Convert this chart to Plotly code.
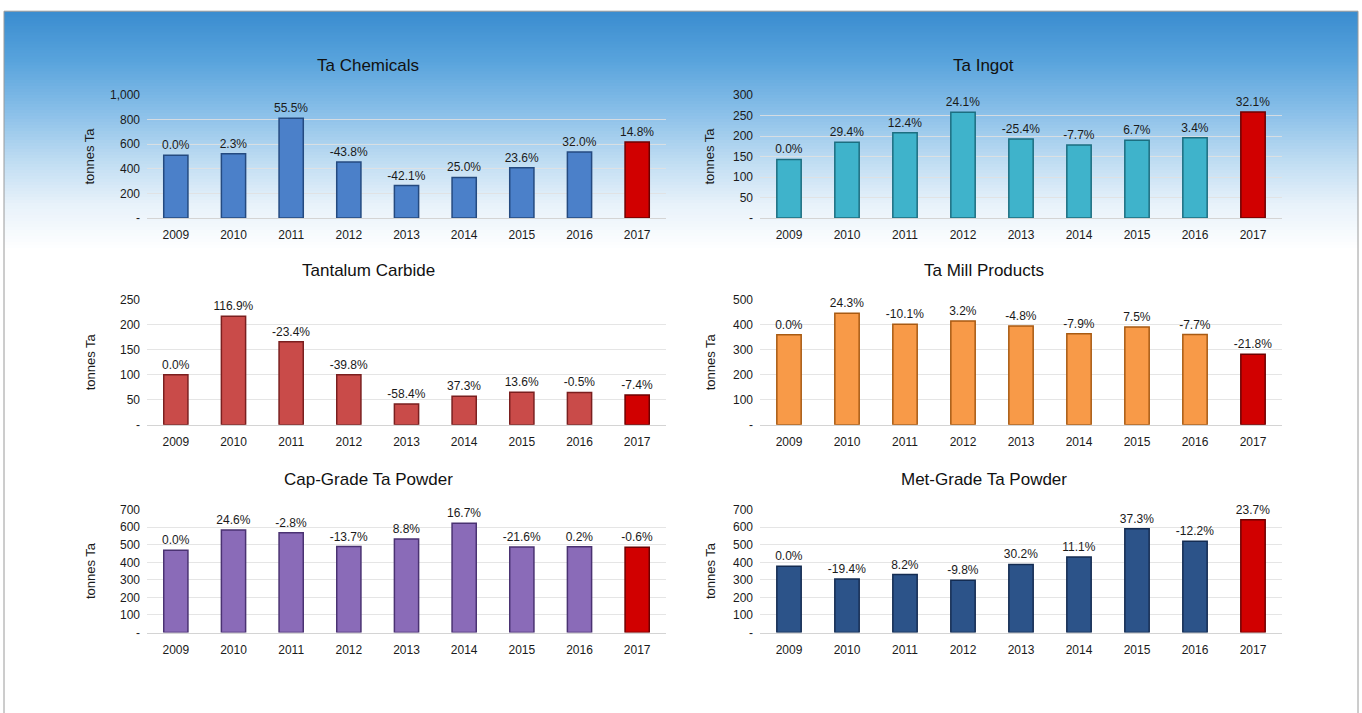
import plotly.graph_objects as go

W, H = 1362, 713

years = ["2009", "2010", "2011", "2012", "2013", "2014", "2015", "2016", "2017"]

chem_vals = [510, 522, 812, 456, 264, 330, 408, 538, 618]
chem_lbls = ["0.0%", "2.3%", "55.5%", "-43.8%", "-42.1%", "25.0%", "23.6%", "32.0%", "14.8%"]

ingot_vals = [143, 185, 208, 258, 193, 178, 190, 196, 259]
ingot_lbls = ["0.0%", "29.4%", "12.4%", "24.1%", "-25.4%", "-7.7%", "6.7%", "3.4%", "32.1%"]

carb_vals = [100, 217, 166, 100, 41.6, 57.1, 64.9, 64.6, 59.8]
carb_lbls = ["0.0%", "116.9%", "-23.4%", "-39.8%", "-58.4%", "37.3%", "13.6%", "-0.5%", "-7.4%"]

mill_vals = [360, 447, 402, 415, 395, 364, 391, 361, 282]
mill_lbls = ["0.0%", "24.3%", "-10.1%", "3.2%", "-4.8%", "-7.9%", "7.5%", "-7.7%", "-21.8%"]

cap_vals = [469, 584, 568, 490, 533, 622, 488, 489, 486]
cap_lbls = ["0.0%", "24.6%", "-2.8%", "-13.7%", "8.8%", "16.7%", "-21.6%", "0.2%", "-0.6%"]

met_vals = [378, 305, 330, 298, 388, 431, 592, 520, 643]
met_lbls = ["0.0%", "-19.4%", "8.2%", "-9.8%", "30.2%", "11.1%", "37.3%", "-12.2%", "23.7%"]

chem_ticks = [0, 200, 400, 600, 800, 1000]
chem_ticktext = ["-", "200", "400", "600", "800", "1,000"]
ingot_ticks = [0, 50, 100, 150, 200, 250, 300]
ingot_ticktext = ["-", "50", "100", "150", "200", "250", "300"]
carb_ticks = [0, 50, 100, 150, 200, 250]
carb_ticktext = ["-", "50", "100", "150", "200", "250"]
mill_ticks = [0, 100, 200, 300, 400, 500]
mill_ticktext = ["-", "100", "200", "300", "400", "500"]
powder_ticks = [0, 100, 200, 300, 400, 500, 600, 700]
powder_ticktext = ["-", "100", "200", "300", "400", "500", "600", "700"]

titles = ["Ta Chemicals", "Ta Ingot", "Tantalum Carbide", "Ta Mill Products",
          "Cap-Grade Ta Powder", "Met-Grade Ta Powder"]
y_title = "tonnes Ta"

HIGHLIGHT = "#d10000"
HIGHLIGHT_LINE = "#6e0000"

charts = [
    dict(vals=chem_vals, lbls=chem_lbls, ticks=chem_ticks, tt=chem_ticktext,
         color="#4b80c9", line="#244a80", col=0, row=0),
    dict(vals=ingot_vals, lbls=ingot_lbls, ticks=ingot_ticks, tt=ingot_ticktext,
         color="#3fb3cb", line="#1c6e80", col=1, row=0),
    dict(vals=carb_vals, lbls=carb_lbls, ticks=carb_ticks, tt=carb_ticktext,
         color="#c94b49", line="#7a1f1f", col=0, row=1),
    dict(vals=mill_vals, lbls=mill_lbls, ticks=mill_ticks, tt=mill_ticktext,
         color="#f89a48", line="#a85a12", col=1, row=1),
    dict(vals=cap_vals, lbls=cap_lbls, ticks=powder_ticks, tt=powder_ticktext,
         color="#8a6bb8", line="#4a3272", col=0, row=2),
    dict(vals=met_vals, lbls=met_lbls, ticks=powder_ticks, tt=powder_ticktext,
         color="#2c5389", line="#142c52", col=1, row=2),
]

# pixel layout (target screen pixels)
x_dom_px = [(147, 666), (760, 1282)]
y_dom_px = [(95, 218), (300, 425), (510, 633)]
title_x_px = [368, 984]
title_y_px = [65, 271, 480]
ytitle_x_px = [90, 710]

# observed vertical rendering: screen = 6.8 + 0.9814 * figure
def fy(y):
    return (y - 6.8) / 0.9814

def px_x(x):
    return x / W

def px_y(y):
    return 1 - fy(y) / H

fig = go.Figure()
layout = dict(
    width=W, height=H, margin=dict(l=0, r=0, t=0, b=0),
    paper_bgcolor="white", plot_bgcolor="rgba(0,0,0,0)",
    showlegend=False, bargap=0.58,
    font=dict(family="Liberation Sans, Arial, sans-serif", size=12, color="#1a1a1a"),
)
annotations = []

for i, c in enumerate(charts):
    n = i + 1
    xa = "x" if n == 1 else f"x{n}"
    ya = "y" if n == 1 else f"y{n}"
    colors = [c["color"]] * (len(years) - 1) + [HIGHLIGHT]
    lines = [c["line"]] * (len(years) - 1) + [HIGHLIGHT_LINE]
    fig.add_trace(go.Bar(
        x=years, y=c["vals"], text=c["lbls"], textposition="outside",
        constraintext="none",
        textfont=dict(size=12, color="#1a1a1a"), cliponaxis=False,
        marker=dict(color=colors, line=dict(color=lines, width=1.5)),
        xaxis=xa, yaxis=ya, hoverinfo="skip",
    ))
    x0, x1 = x_dom_px[c["col"]]
    y0, y1 = y_dom_px[c["row"]]
    layout["xaxis" if n == 1 else f"xaxis{n}"] = dict(
        domain=[px_x(x0), px_x(x1)], anchor=ya, type="category",
        showgrid=False, showline=True, linecolor="#d4d4d4", linewidth=1,
        ticks="", tickfont=dict(size=12, color="#1a1a1a"), ticklabelstandoff=6,
        fixedrange=True,
    )
    layout["yaxis" if n == 1 else f"yaxis{n}"] = dict(
        domain=[px_y(y1), px_y(y0)], anchor=xa,
        range=[0, c["ticks"][-1]], tickvals=c["ticks"], ticktext=c["tt"],
        showgrid=True, gridcolor="rgba(225,225,225,0.85)", gridwidth=1,
        zeroline=False, showline=False, ticks="",
        tickfont=dict(size=12, color="#1a1a1a"), ticklabelstandoff=6,
        fixedrange=True,
    )
    annotations.append(dict(
        text=titles[i], x=px_x(title_x_px[c["col"]]), y=px_y(title_y_px[c["row"]]),
        xref="paper", yref="paper", showarrow=False,
        font=dict(size=17, color="#111111"), xanchor="center", yanchor="middle",
    ))
    annotations.append(dict(
        text=y_title, x=px_x(ytitle_x_px[c["col"]]), y=px_y((y0 + y1) / 2),
        xref="paper", yref="paper", showarrow=False, textangle=-90,
        font=dict(size=13, color="#1a1a1a"), xanchor="center", yanchor="middle",
    ))

# background gradient (blue at top fading to white)
stops = [(11, (58, 140, 207)), (60, (88, 163, 220)), (110, (135, 190, 232)),
         (160, (190, 220, 242)), (205, (232, 242, 250)), (250, (255, 255, 255))]

def col_at(y):
    for (ya_, ca), (yb, cb) in zip(stops[:-1], stops[1:]):
        if ya_ <= y <= yb:
            t = (y - ya_) / (yb - ya_)
            return tuple(round(ca[k] + (cb[k] - ca[k]) * t) for k in range(3))
    return stops[-1][1]

shapes = []
step = 3
y = 11
while y < 250:
    r, g, b = col_at(y + step / 2)
    shapes.append(dict(type="rect", xref="paper", yref="paper",
                       x0=px_x(4), x1=px_x(1358), y0=px_y(y + step + 2), y1=px_y(y),
                       fillcolor=f"rgb({r},{g},{b})", line=dict(width=0), layer="below"))
    y += step
# frame
shapes.append(dict(type="rect", xref="paper", yref="paper",
                   x0=px_x(4), x1=px_x(1358), y0=px_y(730), y1=px_y(11),
                   line=dict(color="#9a9a9a", width=1), fillcolor="rgba(0,0,0,0)", layer="above"))

layout["shapes"] = shapes
layout["annotations"] = annotations
fig.update_layout(**layout)
fig.write_html("out.html")
